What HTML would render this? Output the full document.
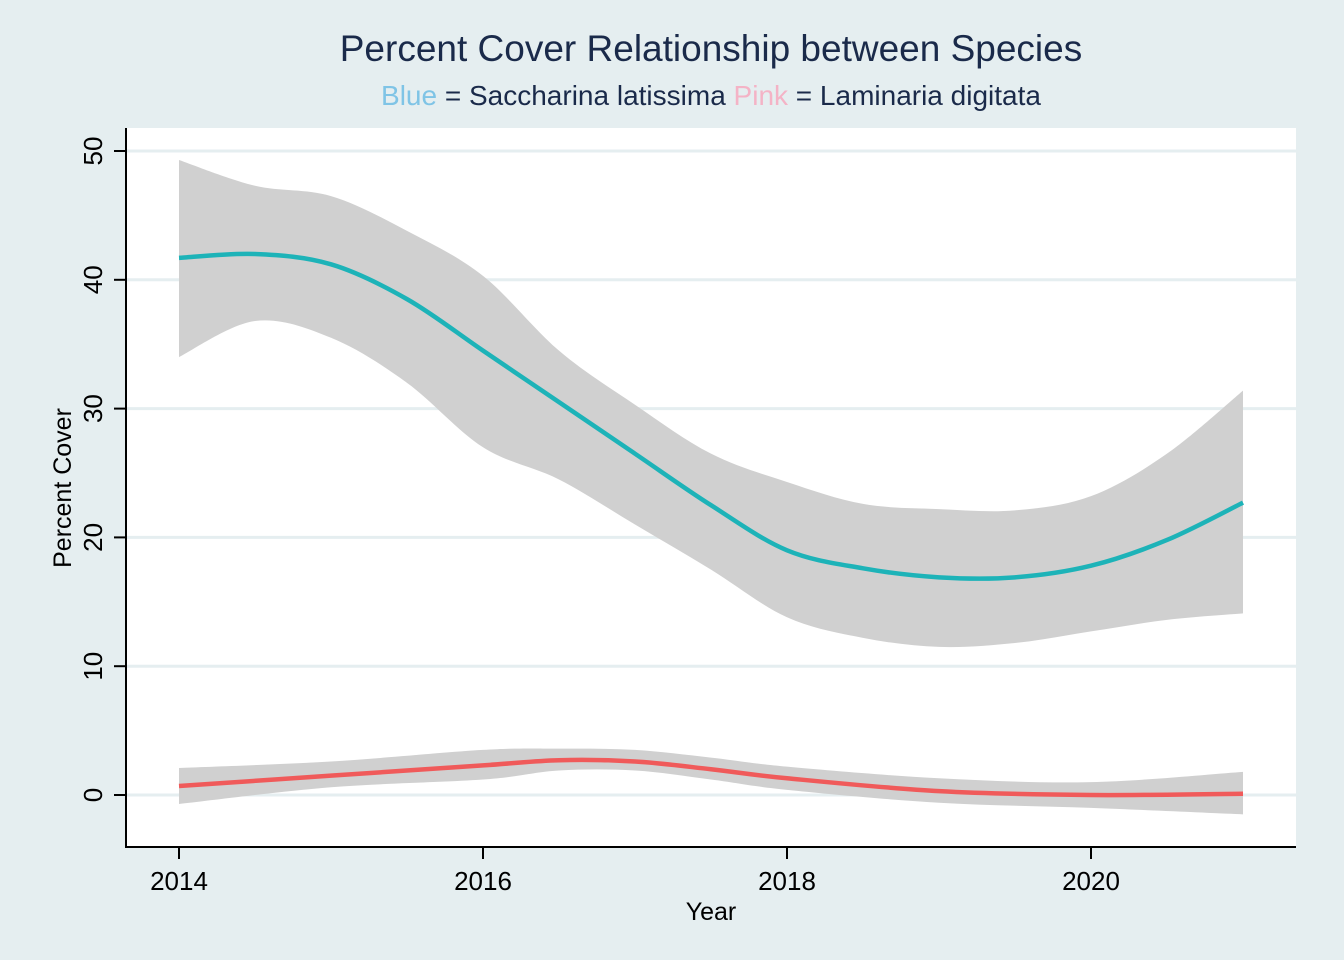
<!DOCTYPE html>
<html><head><meta charset="utf-8"><style>
body{margin:0;background:#e5eef0;}
svg{display:block;font-family:"Liberation Sans",sans-serif;}
</style></head><body>
<svg id="c" width="1344" height="960">
<rect x="0" y="0" width="1344" height="960" fill="#e5eef0"/>
<rect x="126" y="128" width="1170" height="719" fill="#ffffff"/>
<text x="711" y="61" text-anchor="middle" font-size="37" fill="#1a2a4a">Percent Cover Relationship between Species</text>
<text x="711" y="105" text-anchor="middle" font-size="28" fill="#1a2a4a"><tspan fill="#7fc4e6">Blue</tspan> = Saccharina latissima <tspan fill="#f4b3c6">Pink</tspan> = Laminaria digitata</text>
<g id="grid"></g><g id="bands"></g><g id="lines"></g>
<line x1="126" y1="128" x2="126" y2="848" stroke="#000" stroke-width="2"/>
<line x1="125" y1="847" x2="1296" y2="847" stroke="#000" stroke-width="2"/>
<g id="axes"></g>
<text x="711" y="920" text-anchor="middle" font-size="25" fill="#000">Year</text>
<text transform="translate(71,488) rotate(-90)" text-anchor="middle" font-size="25" fill="#000">Percent Cover</text>
</svg>
<script>
const xTicks=[2014,2016,2018,2020];
const yTicks=[0,10,20,30,40,50];
const sYears=[2014,2014.5,2015,2015.5,2016,2016.5,2017,2017.5,2018,2018.5,2019,2019.5,2020,2020.5,2021];
const sFit=[41.7,42.0,41.2,38.5,34.5,30.5,26.5,22.5,19,17.6,16.9,16.9,17.8,19.8,22.7];
const sUpper=[49.3,47.3,46.5,43.8,40.3,34.5,30.3,26.5,24.3,22.6,22.2,22.1,23.2,26.5,31.4];
const sLower=[34,36.8,35.5,32,27,24.5,21,17.5,13.8,12.2,11.5,11.8,12.7,13.6,14.1];
const lYears=[2014,2015,2016,2016.5,2017,2017.5,2018,2019,2020,2021];
const lFit=[0.7,1.5,2.3,2.7,2.6,2.0,1.3,0.3,0,0.1];
const lUpper=[2.1,2.6,3.5,3.6,3.5,2.9,2.2,1.3,1.0,1.8];
const lLower=[-0.7,0.6,1.2,1.9,1.9,1.2,0.4,-0.6,-1.0,-1.5];
const X=v=>179+(v-2014)*152;
const Y=v=>795-v*12.88;
const NS='http://www.w3.org/2000/svg';
function mk(t,a,p){const e=document.createElementNS(NS,t);for(const k in a)e.setAttribute(k,a[k]);document.getElementById(p).appendChild(e);return e;}
function pts(xs,ys){return xs.map((x,i)=>[X(x),Y(ys[i])]);}
function smooth(p,move){let d=(move?'M':'L')+p[0][0]+','+p[0][1];
 for(let i=0;i<p.length-1;i++){const p0=p[i-1]||p[i],p1=p[i],p2=p[i+1],p3=p[i+2]||p2;
  d+=' C'+(p1[0]+(p2[0]-p0[0])/6)+','+(p1[1]+(p2[1]-p0[1])/6)+' '+(p2[0]-(p3[0]-p1[0])/6)+','+(p2[1]-(p3[1]-p1[1])/6)+' '+p2[0]+','+p2[1];}
 return d;}
yTicks.forEach(v=>{
 const g=mk('line',{x1:126,x2:1296,y1:Y(v),y2:Y(v),stroke:'#e5eef0','stroke-width':3},'grid');
 
 
 const t=mk('line',{x1:114,x2:126,y1:Y(v),y2:Y(v),stroke:'#000','stroke-width':2},'axes');
 
 
 const l=mk('text',{x:0,y:0,transform:'translate(102,'+Y(v)+') rotate(-90)','text-anchor':'middle','font-size':26,fill:'#000'},'axes');
 l.textContent=v;
 
 
});
xTicks.forEach(v=>{
 const t=mk('line',{x1:X(v),x2:X(v),y1:847,y2:859,stroke:'#000','stroke-width':2},'axes');
 
 
 const l=mk('text',{x:X(v),y:890,'text-anchor':'middle','font-size':26,fill:'#000'},'axes');
 l.textContent=v;
 
 
});
function band(xs,up,lo,name){
 const u=pts(xs,up),l=pts(xs,lo).reverse();
 const e=mk('path',{d:smooth(u,true)+' '+smooth(l,false)+' Z',fill:'#d0d0d0'},'bands');
 
 
}
band(sYears,sUpper,sLower,'saccharina-confidence-band');
band(lYears,lUpper,lLower,'laminaria-confidence-band');
const a=mk('path',{d:smooth(pts(sYears,sFit),true),fill:'none',stroke:'#1db3b8','stroke-width':4.5},'lines');


const b=mk('path',{d:smooth(pts(lYears,lFit),true),fill:'none',stroke:'#f05a5a','stroke-width':4.5},'lines');


</script>
</body></html>
